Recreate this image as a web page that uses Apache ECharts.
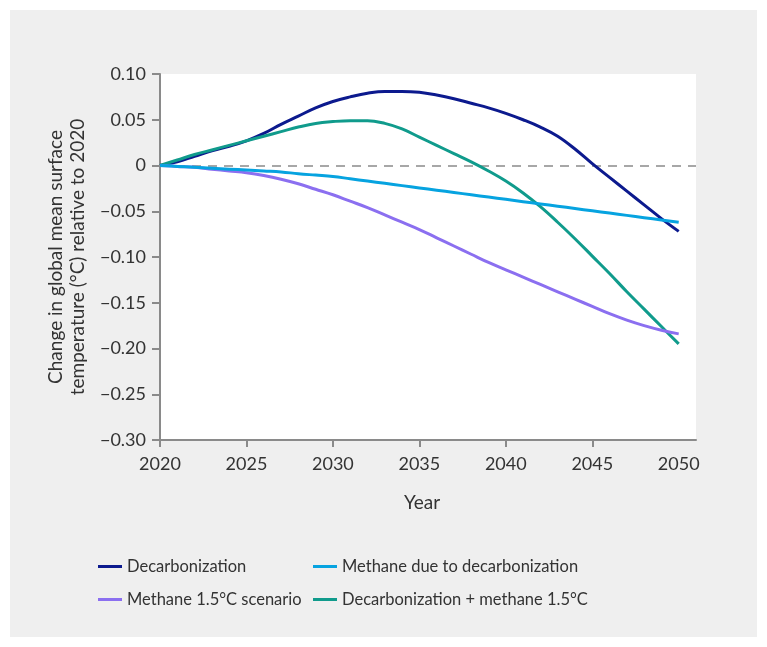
<!DOCTYPE html>
<html lang="en">
<head>
    <meta charset="UTF-8">
    <title>Change in global mean surface temperature</title>
    <script src="https://cdn.jsdelivr.net/npm/echarts@6/dist/echarts.min.js"></script>
    <style type="text/css">
        *{margin:0;padding:0;}
        body{background:#fff;}
        #main{width:767px;height:647px;}
    </style>
</head>
<body>
<div id="main"></div>

<script type="text/javascript">
    // years on the x axis
    var years = [2020, 2021, 2022, 2023, 2024, 2025, 2026, 2027, 2028, 2029,
                 2030, 2031, 2032, 2033, 2034, 2035, 2036, 2037, 2038, 2039,
                 2040, 2041, 2042, 2043, 2044, 2045, 2046, 2047, 2048, 2049, 2050];

    // values (°C relative to 2020)
    var decarbonization = [0, 0.004, 0.010, 0.016, 0.021, 0.027, 0.035, 0.045, 0.054, 0.063,
                           0.070, 0.075, 0.079, 0.081, 0.081, 0.080, 0.077, 0.073, 0.068, 0.063,
                           0.057, 0.050, 0.042, 0.032, 0.018, 0.002, -0.013, -0.028, -0.043, -0.058, -0.072];
    var methaneDecarb = [0, -0.001, -0.002, -0.003, -0.004, -0.005, -0.006, -0.007, -0.009, -0.0105,
                         -0.012, -0.0145, -0.017, -0.0195, -0.022, -0.0245, -0.027, -0.0295, -0.032, -0.0345,
                         -0.037, -0.0395, -0.042, -0.0445, -0.047, -0.0495, -0.052, -0.0545, -0.057, -0.0595, -0.062];
    var methane15 = [0, -0.001, -0.002, -0.004, -0.006, -0.008, -0.011, -0.015, -0.020, -0.026,
                     -0.032, -0.039, -0.046, -0.054, -0.062, -0.070, -0.079, -0.088, -0.097, -0.106,
                     -0.114, -0.122, -0.130, -0.138, -0.146, -0.154, -0.162, -0.169, -0.175, -0.180, -0.184];
    var decarbPlusMethane = [0, 0.006, 0.012, 0.017, 0.022, 0.027, 0.032, 0.037, 0.042, 0.046,
                             0.048, 0.049, 0.049, 0.046, 0.040, 0.031, 0.022, 0.013, 0.004, -0.006,
                             -0.017, -0.030, -0.045, -0.062, -0.080, -0.099, -0.118, -0.138, -0.157, -0.176, -0.195];

    var yTicks = [-0.30, -0.25, -0.20, -0.15, -0.10, -0.05, 0, 0.05, 0.10];
    var xTickMarks = [2020, 2025, 2030, 2035, 2040, 2045, 2051];

    function pairs(vals) {
        var out = [];
        for (var i = 0; i < years.length; i++) {
            out.push([years[i], vals[i]]);
        }
        return out;
    }

    var font = 'Lato, "Open Sans", sans-serif';
    var textColor = '#333';
    var axisColor = '#8a8a8a';

    var myChart = echarts.init(document.getElementById('main'));
    var option = {
        backgroundColor: '#fff',
        animation: false,
        textStyle: {fontFamily: font},
        graphic: [{
            type: 'rect',
            z: -10,
            left: 10,
            top: 10,
            shape: {width: 747, height: 627},
            style: {fill: '#efefef'}
        }],
        legend: [{
            orient: 'vertical',
            left: 93,
            top: 553,
            icon: 'rect',
            itemWidth: 24,
            itemHeight: 3,
            itemGap: 16,
            textStyle: {fontSize: 16.5, color: textColor, fontFamily: font},
            data: ['Decarbonization', 'Methane 1.5°C scenario']
        }, {
            orient: 'vertical',
            left: 308,
            top: 553,
            icon: 'rect',
            itemWidth: 24,
            itemHeight: 3,
            itemGap: 16,
            textStyle: {fontSize: 16.5, color: textColor, fontFamily: font},
            data: ['Methane due to decarbonization', 'Decarbonization + methane 1.5°C']
        }],
        grid: {
            left: 160,
            right: 71,
            top: 74,
            bottom: 207,
            show: true,
            backgroundColor: '#fff',
            borderWidth: 0
        },
        xAxis: {
            type: 'value',
            min: 2020,
            max: 2051,
            interval: 5,
            name: 'Year',
            nameLocation: 'middle',
            nameGap: 53,
            nameTextStyle: {fontSize: 19, color: textColor, fontFamily: font, padding: [0, 12, 0, 0]},
            axisLine: {onZero: false, lineStyle: {color: axisColor, width: 2}},
            axisTick: {length: 7, customValues: xTickMarks, lineStyle: {color: axisColor, width: 2}},
            axisLabel: {
                showMaxLabel: false,
                margin: 15,
                fontSize: 18,
                color: textColor,
                fontFamily: font,
                formatter: function (v) { return String(v); }
            },
            splitLine: {show: false}
        },
        yAxis: {
            type: 'value',
            min: yTicks[0],
            max: yTicks[yTicks.length - 1],
            interval: 0.05,
            name: 'Change in global mean surface\ntemperature (°C) relative to 2020',
            nameLocation: 'middle',
            nameGap: 70,
            nameTextStyle: {fontSize: 19, lineHeight: 22, color: textColor, fontFamily: font},
            axisLine: {show: true, onZero: false, lineStyle: {color: axisColor, width: 2}},
            axisTick: {show: true, length: 8, lineStyle: {color: axisColor, width: 2}},
            axisLabel: {
                margin: 14,
                fontSize: 18,
                color: textColor,
                fontFamily: font,
                formatter: function (v) {
                    if (Math.abs(v) < 1e-9) return '0';
                    return (v < 0 ? '\u2212' : '') + Math.abs(v).toFixed(2);
                }
            },
            splitLine: {show: false}
        },
        series: [{
            name: 'Decarbonization',
            type: 'line',
            smooth: 0.4,
            showSymbol: false,
            lineStyle: {width: 3, color: '#0c1a8e'},
            itemStyle: {color: '#0c1a8e'},
            data: pairs(decarbonization),
            markLine: {
                silent: true,
                symbol: 'none',
                label: {show: false},
                lineStyle: {color: '#8a8a8a', type: [9, 7], width: 1.5},
                data: [{yAxis: 0}],
                z: 1
            }
        }, {
            name: 'Decarbonization + methane 1.5°C',
            type: 'line',
            smooth: 0.4,
            showSymbol: false,
            lineStyle: {width: 3, color: '#109b8c'},
            itemStyle: {color: '#109b8c'},
            data: pairs(decarbPlusMethane)
        }, {
            name: 'Methane 1.5°C scenario',
            type: 'line',
            smooth: 0.4,
            showSymbol: false,
            lineStyle: {width: 3, color: '#8b6ff0'},
            itemStyle: {color: '#8b6ff0'},
            data: pairs(methane15)
        }, {
            name: 'Methane due to decarbonization',
            type: 'line',
            smooth: 0.4,
            showSymbol: false,
            lineStyle: {width: 3, color: '#06a3e0'},
            itemStyle: {color: '#06a3e0'},
            data: pairs(methaneDecarb)
        }]
    };

    myChart.setOption(option);
</script>
</body>
</html>
